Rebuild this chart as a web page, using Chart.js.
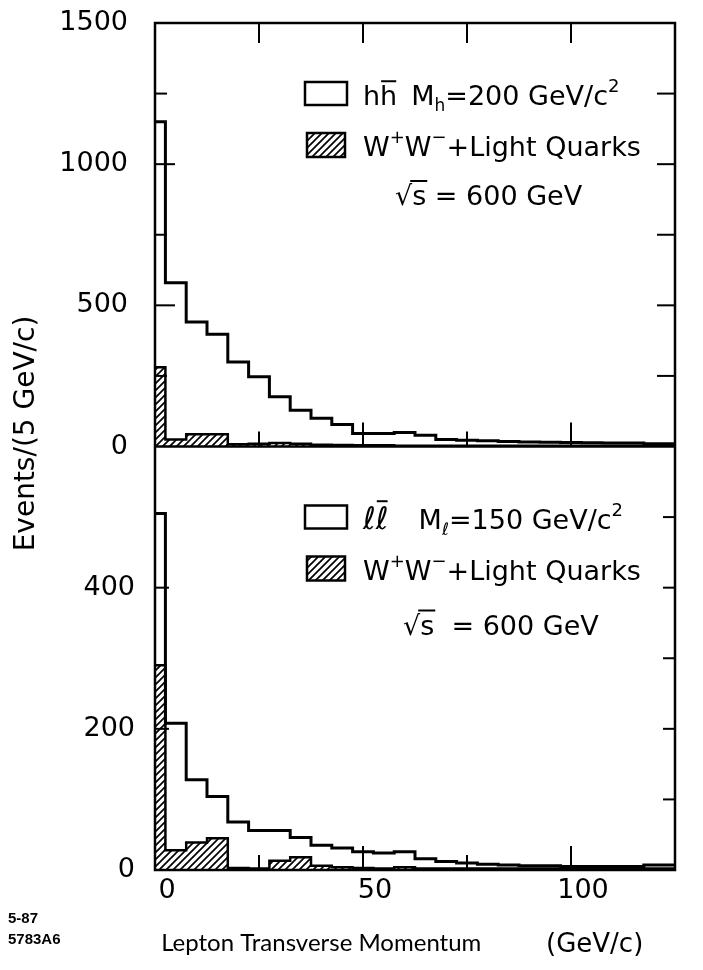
<!DOCTYPE html>
<html>
<head>
<meta charset="utf-8">
<script src="https://cdn.jsdelivr.net/npm/chart.js@4.4.1/dist/chart.umd.min.js"></script>
<style>
  html, body { margin: 0; padding: 0; background: #fff; }
  canvas { display: block; }
</style>
</head>
<body>
<canvas id="chart" width="703" height="970"></canvas>
<script>
// lepton pT bin centres (5 GeV/c bins, the first one is only half a bin)
const ptBins = [0, 5, 10, 15, 20, 25, 30, 35, 40, 45, 50, 55, 60, 65, 70, 75, 80, 85, 90, 95, 100, 105, 110, 115, 120, 125];
// upper panel: h hbar, M_h = 200
const hhSignal = [1150, 580, 441, 398, 299, 247, 176, 128, 100, 78, 46, 46, 50, 40, 25, 22, 20, 18, 16, 15, 14, 13, 12, 12, 10, 10];
const hhBackground = [281, 25, 43, 43, 8, 10, 12, 10, 6, 5, 4, 4, 3, 3, 3, 3, 3, 3, 3, 3, 3, 3, 3, 3, 3, 3];
// lower panel: l lbar, M_l = 150
const llSignal = [505, 208, 128, 104, 68, 56, 56, 46, 35, 31, 26, 24, 26, 16, 12, 10, 8, 7, 6, 6, 5, 5, 5, 5, 7, 7];
const llBackground = [290, 28, 39, 45, 3, 2, 13, 18, 6, 4, 3, 2, 4, 2, 2, 2, 2, 2, 2, 2, 2, 2, 2, 2, 2, 2];

const topLabels = [0, 500, 1000, 1500];
const bottomLabels = [0, 200, 400];
const ptLabels = [0, 50, 100];

const FONT = '"DejaVu Sans", sans-serif';
const TITLE_FONT = 'Lato, "DejaVu Sans", sans-serif';
Chart.defaults.font.family = FONT;
Chart.defaults.font.size = 27;
Chart.defaults.color = "#000";

const canvas = document.getElementById("chart");
const ctx = canvas.getContext("2d");

// "////" hatching for the W+W- background
var tile = document.createElement("canvas");
tile.width = 7;
tile.height = 7;
var tc = tile.getContext("2d");
tc.strokeStyle = "#000";
tc.lineWidth = 1.7;
tc.beginPath();
tc.moveTo(-1, 8); tc.lineTo(8, -1);
tc.moveTo(-1, 1); tc.lineTo(1, -1);
tc.moveTo(6, 8); tc.lineTo(8, 6);
tc.stroke();
var hatchFill = ctx.createPattern(tile, "repeat");

function toPoints(ys) {
  return ptBins.map((x, i) => ({ x: x, y: ys[i] }));
}

function histo(ys, axis, hatched) {
  return {
    data: toPoints(ys),
    yAxisID: axis,
    stepped: "middle",
    borderColor: "#000",
    borderWidth: hatched ? 2.5 : 3,
    pointRadius: 0,
    fill: hatched ? "origin" : false,
    backgroundColor: hatched ? hatchFill : "transparent",
  };
}

function line(c, x1, y1, x2, y2) {
  c.beginPath();
  c.moveTo(x1, y1);
  c.lineTo(x2, y2);
  c.stroke();
}

// text with sub/superscripts and bars
function drawRuns(c, x, y, runs) {
  runs.forEach((r) => {
    if (r.gap) {
      x += r.gap;
      return;
    }
    const size = r.size || 27;
    c.font = size + "px " + FONT;
    c.fillText(r.t, x, y + (r.dy || 0));
    const w = c.measureText(r.t).width;
    if (r.bar) {
      c.lineWidth = 2;
      line(c, x + 1, y - size * 0.88, x + w - 1, y - size * 0.88);
    }
    x += w;
  });
  return x;
}

function drawRoot(c, x, y, rest) {
  c.font = "27px " + FONT;
  c.fillText("\u221A", x, y);
  const w = c.measureText("\u221A").width;
  const ws = c.measureText("s").width;
  c.fillText("s" + rest, x + w, y);
  c.lineWidth = 2;
  line(c, x + w - 2, y - 24, x + w + ws + 1, y - 24);
}

// the stacked y axes would otherwise push the plot down for their end labels
function fitLeft(s) {
  s.width = 155;
  s.paddingTop = 0;
  s.paddingBottom = 0;
}

const framePlugin = {
  id: "frame",
  afterDraw(chart) {
    const c = chart.ctx;
    const a = chart.chartArea;
    const sx = chart.scales.x;
    const yt = chart.scales.yTop;
    const yb = chart.scales.yBot;
    const mid = yt.getPixelForValue(0);
    c.save();
    c.strokeStyle = "#000";
    c.fillStyle = "#000";
    c.lineWidth = 2.5;
    c.strokeRect(a.left, a.top, a.width, a.height);
    line(c, a.left, mid, a.right, mid);

    // inward ticks
    c.lineWidth = 2;
    sx.ticks.forEach((t) => {
      if (t.value <= sx.min || t.value >= sx.max) return;
      const px = sx.getPixelForValue(t.value);
      const len = ptLabels.includes(t.value) ? 24 : 15;
      line(c, px, a.top, px, a.top + 20);
      line(c, px, mid, px, mid - len);
      line(c, px, a.bottom, px, a.bottom - len);
    });
    yt.ticks.forEach((t) => {
      if (t.value <= yt.min || t.value >= yt.max) return;
      const py = yt.getPixelForValue(t.value);
      line(c, a.left, py, a.left + (topLabels.includes(t.value) ? 20 : 12), py);
      line(c, a.right, py, a.right - 18, py);
    });
    yb.ticks.forEach((t) => {
      if (t.value <= yb.min || t.value >= yb.max) return;
      const py = yb.getPixelForValue(t.value);
      if (bottomLabels.includes(t.value)) line(c, a.left, py, a.left + 14, py);
      line(c, a.right, py, a.right - 12, py);
    });

    // legends
    [[yt, "h", "200"], [yb, "\u2113", "150"]].forEach(([s, q, m], k) => {
      const x0 = a.left + 150;
      const top = s.top;
      c.lineWidth = 2.5;
      c.strokeRect(x0, top + 59, 42, 23);
      c.fillStyle = hatchFill;
      c.fillRect(x0 + 2, top + 110, 38, 24);
      c.fillStyle = "#000";
      c.strokeRect(x0 + 2, top + 110, 38, 24);
      c.textBaseline = "alphabetic";
      c.textAlign = "left";
      drawRuns(c, a.left + 208, top + 82, [
        { t: q, size: k ? 31 : 27 }, { t: q, bar: true, size: k ? 31 : 27 }, { gap: k ? 30 : 14 },
        { t: "M" }, { t: q, size: 17, dy: 6 },
        { t: "=" + m + " GeV/c" }, { t: "2", size: 18, dy: -13 },
      ]);
      drawRuns(c, a.left + 208, top + 133, [
        { t: "W" }, { t: "+", size: 18, dy: -13 },
        { t: "W" }, { t: "\u2212", size: 18, dy: -13 },
        { t: "+Light Quarks" },
      ]);
      drawRoot(c, a.left + (k ? 248 : 240), top + (k ? 188 : 182), k ? "  = 600 GeV" : " = 600 GeV");
    });

    // y title
    c.save();
    c.translate(27, (a.top + a.bottom) / 2 - 13);
    c.rotate(-Math.PI / 2);
    c.textAlign = "center";
    c.textBaseline = "middle";
    c.font = "28px " + FONT;
    c.fillText("Events/(5 GeV/c)", 0, 0);
    c.restore();

    // unit of the x title
    c.font = "26px " + FONT;
    c.textAlign = "left";
    c.textBaseline = "alphabetic";
    c.fillText("(GeV/c)", 546, 952);

    // plate number
    c.font = 'bold 15px "Liberation Sans", sans-serif';
    c.fillText("5-87", 8, 923);
    c.fillText("5783A6", 8, 944);
    c.restore();
  },
};

new Chart(ctx, {
  type: "line",
  data: {
    datasets: [
      histo(hhBackground, "yTop", true),
      histo(hhSignal, "yTop", false),
      histo(llBackground, "yBot", true),
      histo(llSignal, "yBot", false),
    ],
  },
  options: {
    responsive: false,
    devicePixelRatio: 1,
    animation: false,
    layout: { padding: { left: 0, right: 28, top: 23, bottom: 0 } },
    plugins: { legend: { display: false }, tooltip: { enabled: false } },
    scales: {
      x: {
        type: "linear",
        min: 0,
        max: 125,
        grid: { display: false, drawTicks: false },
        border: { display: false },
        ticks: {
          stepSize: 25,
          autoSkip: false,
          maxRotation: 0,
          padding: 5,
          labelOffset: 12,
          callback: (v) => (ptLabels.includes(v) ? v : ""),
        },
        title: {
          display: true,
          text: " Lepton Transverse Momentum",
          align: "start",
          font: { family: TITLE_FONT, size: 24 },
          padding: { top: 0, bottom: 12 },
        },
        afterFit: (s) => { s.height = 100; },
      },
      yTop: {
        type: "linear",
        position: "left",
        stack: "panels",
        stackWeight: 1,
        weight: 2,
        min: 0,
        max: 1500,
        grid: { display: false, drawTicks: false },
        border: { display: false },
        ticks: {
          stepSize: 250,
          padding: 27,
          callback: (v) => (topLabels.includes(v) ? v : ""),
        },
        afterFit: fitLeft,
      },
      yBot: {
        type: "linear",
        position: "left",
        stack: "panels",
        stackWeight: 1,
        weight: 1,
        min: 0,
        max: 600,
        grid: { display: false, drawTicks: false },
        border: { display: false },
        ticks: {
          stepSize: 100,
          padding: 20,
          callback: (v) => (bottomLabels.includes(v) ? v : ""),
        },
        afterFit: fitLeft,
      },
    },
  },
  plugins: [framePlugin],
});
</script>
</body>
</html>
